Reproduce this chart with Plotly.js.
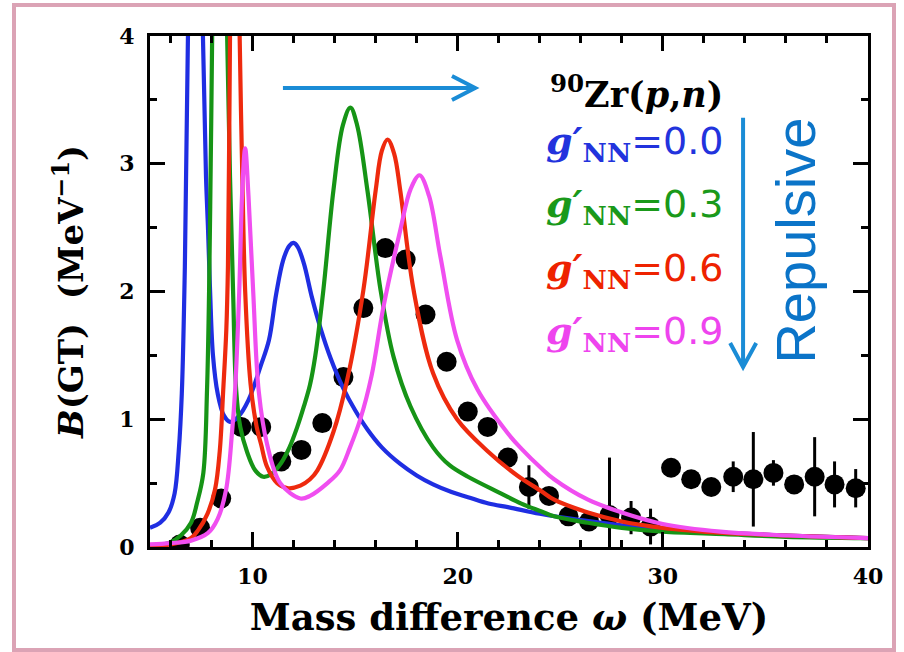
<!DOCTYPE html>
<html>
<head>
<meta charset="utf-8">
<script src="https://cdn.plot.ly/plotly-3.0.1.min.js"></script>
<style>
  html, body { margin: 0; padding: 0; background: #fff; }
  #frame {
    position: absolute; left: 12px; top: 3px; width: 884px; height: 649px;
    box-sizing: border-box; border: 4px solid #dba3b5; pointer-events: none;
  }
  #outputPlot { position: absolute; left: 0; top: 0; width: 904px; height: 652px; }
</style>
</head>
<body>
<div id="outputPlot"></div>
<div id="frame"></div>
<script>
/* global Plotly */
// g'NN = 0.0
const blueX = [5.0, 5.5, 5.9, 6.2, 6.4, 6.55, 6.7, 6.85, 6.95, 7.1, 7.2, 7.3, 7.45, 7.58, 7.73, 7.83,
  7.93, 8.07, 8.3, 8.6, 8.9, 9.3, 9.8, 10.4, 10.8, 11.15, 11.5, 11.8, 12.0, 12.2, 12.5, 12.9, 13.3,
  13.8, 14.4, 15.0, 15.6, 16.3, 17.2, 18.0, 18.8, 19.7, 20.5, 21.5, 22.5, 24.0, 26.0, 28.0, 30.0,
  33.0, 36.0, 40.0];
const blueY = [0.15, 0.19, 0.27, 0.42, 0.75, 1.2, 2.2, 4.0, 6.5, 9.5, 10.0, 9.5, 6.0, 4.0, 2.9, 2.48,
  2.0, 1.5, 1.2, 1.03, 0.98, 1.02, 1.15, 1.42, 1.62, 1.98, 2.25, 2.36, 2.38, 2.35, 2.22, 1.95, 1.72,
  1.48, 1.25, 1.07, 0.92, 0.78, 0.65, 0.56, 0.49, 0.43, 0.39, 0.34, 0.31, 0.26, 0.21, 0.17, 0.14,
  0.11, 0.09, 0.07];

// g'NN = 0.3
const greenX = [5.0, 5.9, 6.5, 7.0, 7.3, 7.6, 7.78, 7.88, 7.96, 8.03, 8.15, 8.3, 8.4, 8.5, 8.65, 8.76,
  8.9, 9.05, 9.2, 9.4, 9.74, 10.13, 10.52, 10.9, 11.4, 11.8, 12.18, 12.5, 12.8, 13.06, 13.45, 13.94,
  14.4, 14.77, 15.1, 15.6, 16.24, 16.87, 17.7, 18.8, 19.6, 20.5, 22.1, 23.1, 24.05, 24.7, 26.35, 28.0,
  30.0, 33.0, 36.0, 40.0];
const greenY = [0.01, 0.03, 0.09, 0.19, 0.35, 0.58, 1.23, 2.0, 3.0, 4.0, 6.5, 9.0, 9.5, 8.5, 5.5, 4.0,
  2.9, 2.0, 1.23, 0.94, 0.74, 0.6, 0.55, 0.57, 0.66, 0.78, 0.94, 1.1, 1.27, 1.5, 2.01, 2.79,
  3.3, 3.44, 3.3, 2.79, 2.01, 1.49, 1.1, 0.78, 0.64, 0.55, 0.42, 0.34, 0.28, 0.24, 0.19, 0.15,
  0.12, 0.1, 0.08, 0.07];

// g'NN = 0.6
const redX = [5.0, 6.0, 7.0, 7.34, 7.8, 8.17, 8.4, 8.57, 8.72, 8.8, 8.85, 8.9, 9.0, 9.1, 9.2, 9.3,
  9.37, 9.5, 9.64, 9.9, 10.2, 10.42, 10.7, 11.2, 11.74, 12.33, 12.8, 13.16, 13.94, 14.6, 15.4, 16.0,
  16.3, 16.58, 16.9, 17.2, 17.85, 18.8, 19.97, 21.46, 22.9, 24.05, 24.7, 26.35, 28.0, 30.0, 33.0,
  36.0, 40.0];
const redY = [0.01, 0.02, 0.07, 0.13, 0.26, 0.45, 0.75, 1.23, 1.7, 2.2, 3.0, 4.0, 6.5, 8.0, 7.0, 4.8,
  4.0, 2.9, 2.0, 1.28, 0.94, 0.8, 0.63, 0.5, 0.46, 0.48, 0.53, 0.6, 0.9, 1.3, 2.01, 2.79,
  3.1, 3.19, 3.08, 2.79, 2.01, 1.36, 1.0, 0.75, 0.56, 0.44, 0.37, 0.27, 0.2, 0.15, 0.11,
  0.09, 0.07];

// g'NN = 0.9
const magentaX = [5.0, 6.0, 7.0, 7.83, 8.3, 8.71, 9.0, 9.15, 9.35, 9.5, 9.64, 9.8, 10.03, 10.3, 10.7,
  11.35, 12.33, 12.8, 13.65, 14.26, 14.75, 15.25, 15.8, 16.38, 17.2, 17.7, 18.14, 18.6, 19.16, 19.97,
  20.97, 22.44, 23.1, 24.05, 24.7, 26.35, 28.0, 30.0, 32.8, 36.1, 40.0];
const magentaY = [0.02, 0.03, 0.05, 0.11, 0.22, 0.45, 0.9, 1.23, 2.0, 2.8, 3.12, 2.75, 2.0, 1.22, 0.81,
  0.5, 0.38, 0.4, 0.5, 0.6, 0.78, 1.0, 1.34, 1.88, 2.48, 2.8, 2.91, 2.75, 2.27, 1.62,
  1.23, 0.89, 0.77, 0.62, 0.53, 0.37, 0.27, 0.18, 0.12, 0.09, 0.07];

// 90Zr(p,n) data
const expX = [6.45, 7.44, 8.47, 9.45, 10.42, 11.40, 12.38, 13.40, 14.43, 15.40, 16.47, 17.46, 18.43,
  19.46, 20.49, 21.46, 22.44, 23.47, 24.45, 25.40, 26.40, 27.40, 28.45, 29.40, 30.40, 31.38, 32.36,
  33.43, 34.41, 35.39, 36.40, 37.40, 38.37, 39.40];
const expY = [0.02, 0.15, 0.38, 0.94, 0.94, 0.67, 0.76, 0.97, 1.33, 1.87, 2.34, 2.25, 1.82,
  1.45, 1.06, 0.94, 0.70, 0.47, 0.40, 0.24, 0.20, 0.25, 0.23, 0.16, 0.62, 0.53, 0.47,
  0.55, 0.53, 0.58, 0.49, 0.55, 0.49, 0.46];
const expErr = [0, 0, 0, 0, 0, 0, 0, 0, 0, 0, 0, 0, 0,
  0, 0, 0, 0, 0.17, 0, 0, 0, 0.45, 0.13, 0.14, 0, 0, 0,
  0.12, 0.37, 0.1, 0, 0.31, 0.18, 0.15];

const gLabels = ['0.0', '0.3', '0.6', '0.9'];
const gColors = ['#2233dd', '#1a991a', '#ee2200', '#ee44ee'];
const lineColors = ['#1f2ee2', '#169416', '#ee2a0e', '#f04ef0'];

const SERIF = 'DejaVu Serif';
const ARROW = '#1a8cd6';

function curve(x, y, color) {
  return {
    x: x, y: y, type: 'scatter', mode: 'lines',
    line: {color: color, width: 4.2, shape: 'spline', smoothing: 1},
    hoverinfo: 'skip', showlegend: false
  };
}

const traces = [
  {
    x: expX, y: expY, type: 'scatter', mode: 'markers',
    marker: {color: '#000', size: 20},
    error_y: {type: 'data', array: expErr, visible: true, color: '#000', thickness: 3, width: 0},
    showlegend: false
  },
  curve(blueX, blueY, lineColors[0]),
  curve(greenX, greenY, lineColors[1]),
  curve(redX, redY, lineColors[2]),
  curve(magentaX, magentaY, lineColors[3])
];

const tickFont = {family: SERIF, size: 22, color: '#000', weight: 'bold'};

const annotations = [
  {
    x: 24.4, y: 3.56, xref: 'x', yref: 'y', xanchor: 'left', yanchor: 'middle', showarrow: false,
    text: '<sup>90</sup>Zr(<i>p</i>,<i>n</i>)',
    font: {family: SERIF, size: 35, color: '#000', weight: 'bold'}
  },
  {
    x: 36.45, y: 2.40, xref: 'x', yref: 'y', xanchor: 'center', yanchor: 'middle', showarrow: false,
    textangle: -90, text: 'Repulsive',
    font: {family: 'Liberation Sans', size: 56, color: '#0b74c8'}
  }
];
const labelY = [3.16, 2.67, 2.17, 1.675];
gLabels.forEach(function (g, i) {
  annotations.push({
    x: 24.2, y: labelY[i], xref: 'x', yref: 'y', xanchor: 'left', yanchor: 'middle', showarrow: false,
    text: '<span style="font-family:DejaVu Serif;font-style:italic;font-weight:bold">g′</span>' +
      '<sub><span style="font-family:DejaVu Serif;font-weight:bold">NN</span></sub>=' + g,
    font: {family: 'DejaVu Sans', size: 38, color: gColors[i]}
  });
});

const layout = {
  width: 904, height: 652,
  margin: {l: 150, r: 36, t: 36, b: 105},
  paper_bgcolor: 'rgba(0,0,0,0)', plot_bgcolor: '#fff',
  showlegend: false,
  xaxis: {
    range: [5, 40], tick0: 0, dtick: 10, ticks: 'inside', ticklen: 15, tickwidth: 3, tickcolor: '#000',
    minor: {dtick: 2, ticks: 'inside', ticklen: 7, tickwidth: 3, tickcolor: '#000'},
    showline: true, linewidth: 3, linecolor: '#000', mirror: 'ticks', showgrid: false, zeroline: false,
    tickfont: tickFont, ticklabelstandoff: 8,
    title: {text: 'Mass difference <i>ω</i> (MeV)', standoff: 16,
      font: {family: SERIF, size: 37, color: '#000', weight: 'bold'}}
  },
  yaxis: {
    range: [0, 4], tick0: 0, dtick: 1, ticks: 'inside', ticklen: 15, tickwidth: 3, tickcolor: '#000',
    minor: {dtick: 0.5, ticks: 'inside', ticklen: 7, tickwidth: 3, tickcolor: '#000'},
    showline: true, linewidth: 3, linecolor: '#000', mirror: 'ticks', showgrid: false, zeroline: false,
    tickfont: tickFont, ticklabelstandoff: 8,
    title: {text: '<i>B</i>(GT)  (MeV<sup>−1</sup>)', standoff: 26,
      font: {family: SERIF, size: 34, color: '#000', weight: 'bold'}}
  },
  annotations: annotations,
  shapes: [
    {type: 'path', xref: 'x', yref: 'y', line: {color: ARROW, width: 4},
      path: 'M 11.48,3.593 L 20.8,3.593 M 19.72,3.687 L 20.85,3.593 L 19.72,3.499'},
    {type: 'path', xref: 'x', yref: 'y', line: {color: ARROW, width: 4},
      path: 'M 33.91,3.36 L 33.91,1.44 M 33.28,1.597 L 33.91,1.409 L 34.55,1.597'}
  ]
};

Plotly.newPlot('outputPlot', traces, layout, {staticPlot: true});
</script>
</body>
</html>
